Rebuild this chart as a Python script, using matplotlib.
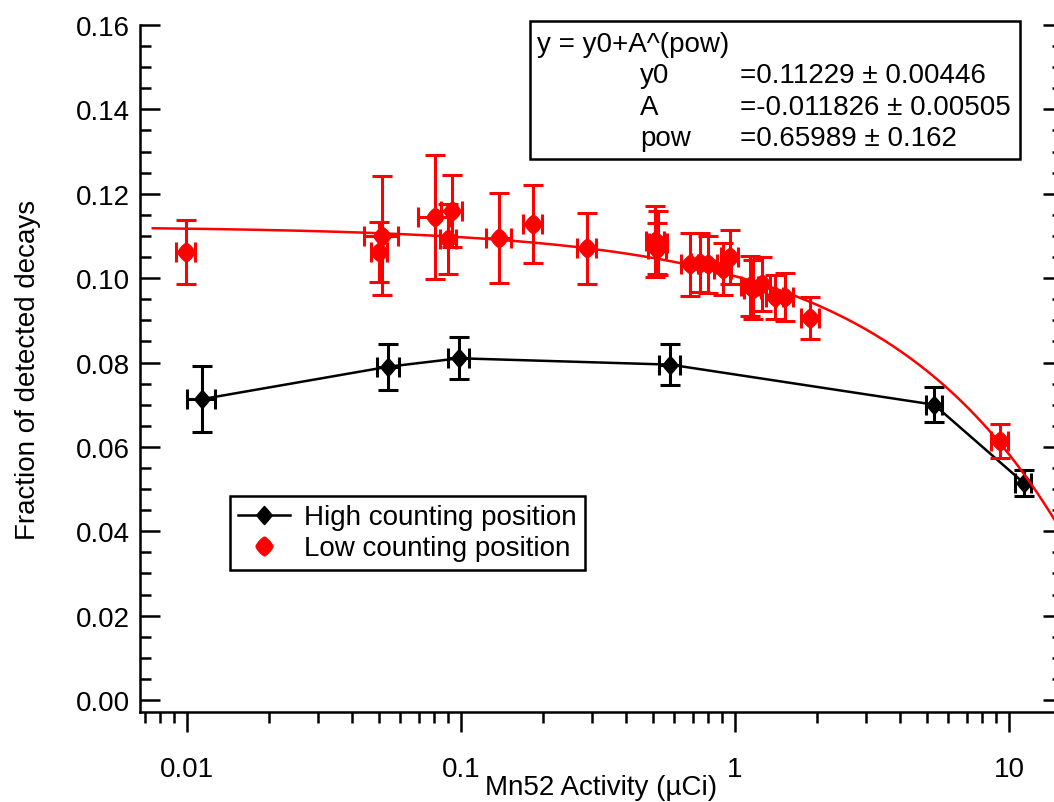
import numpy as np
import matplotlib
matplotlib.use("Agg")
import matplotlib.pyplot as plt
from matplotlib.lines import Line2D
from matplotlib.patches import Rectangle
from matplotlib.ticker import FixedLocator, FixedFormatter, LogLocator, MultipleLocator, NullFormatter

plt.rcParams['font.family'] = ['Liberation Sans', 'DejaVu Sans']

# ---- data ----
high_x = [0.0113, 0.0542, 0.0984, 0.579, 5.33, 11.3]
high_y = [0.0713, 0.0790, 0.0810, 0.0795, 0.0700, 0.0515]
high_yerr = [0.0078, 0.0055, 0.0050, 0.0048, 0.0042, 0.0031]
high_xerr = [0.0013, 0.0050, 0.009, 0.05, 0.37, 0.75]

low_x = [0.0099, 0.0503, 0.0515, 0.0804, 0.0897, 0.0927, 0.1377, 0.183, 0.288,
         0.512, 0.525, 0.520, 0.685, 0.745, 0.797, 0.904, 0.958, 1.134, 1.163,
         1.25, 1.40, 1.52, 1.88, 9.27]
low_y = [0.1062, 0.1062, 0.1100, 0.1145, 0.1093, 0.1159, 0.1095, 0.1128, 0.1071,
         0.1087, 0.1083, 0.1070, 0.1033, 0.1037, 0.1033, 0.1021, 0.1050, 0.0982,
         0.0974, 0.0986, 0.0955, 0.0955, 0.0905, 0.0614]
low_yerr = [0.0075, 0.0070, 0.0141, 0.0148, 0.0083, 0.0085, 0.0107, 0.0092, 0.0084,
            0.0084, 0.0076, 0.0060, 0.0075, 0.0070, 0.0068, 0.0062, 0.0063, 0.0071,
            0.0070, 0.0065, 0.0053, 0.0057, 0.0050, 0.0040]
low_xerr = [0.0008, 0.0035, 0.0074, 0.011, 0.006, 0.008, 0.014, 0.014, 0.022,
            0.04, 0.04, 0.04, 0.05, 0.055, 0.06, 0.065, 0.07, 0.08, 0.085,
            0.09, 0.10, 0.11, 0.14, 0.65]

fit_y0 = 0.11229
fit_A = -0.011826
fit_pow = 0.65989
fit_range = [0.0075, 16.0]

xtick_vals = [0.01, 0.1, 1, 10]
xtick_labels = ["0.01", "0.1", "1", "10"]
ytick_vals = [0.00, 0.02, 0.04, 0.06, 0.08, 0.10, 0.12, 0.14, 0.16]
ytick_labels = ["0.00", "0.02", "0.04", "0.06", "0.08", "0.10", "0.12", "0.14", "0.16"]

legend_labels = ["High counting position", "Low counting position"]
fit_lines = [("y = y0+A^(pow)", "", ""),
             ("", "y0", "=0.11229 \u00b1 0.00446"),
             ("", "A", "=-0.011826 \u00b1 0.00505"),
             ("", "pow", "=0.65989 \u00b1 0.162")]

# ---- figure ----
FS = 20
W, H = 1054, 803
fig = plt.figure(figsize=(W / 100, H / 100), dpi=100)
L, R, T, B = 140, 1063, 26, 713
ax = fig.add_axes([L / W, 1 - B / H, (R - L) / W, (B - T) / H])

# marker shapes
t = np.linspace(0, 2 * np.pi, 129)
def star(n, sx=1.0):
    c, s = np.cos(t), np.sin(t)
    x = np.sign(c) * np.abs(c) ** (2.0 / n) * sx
    y = np.sign(s) * np.abs(s) ** (2.0 / n)
    return np.column_stack([x, y])
red_marker = star(1.3, 0.9)
black_marker = star(1.05, 0.85)

lw = 1.8
RED = '#ff0000'

ax.errorbar(high_x, high_y, yerr=high_yerr, xerr=high_xerr, color='black',
            lw=lw, marker=black_marker, markersize=13, elinewidth=2.2,
            capsize=7, capthick=2.2, zorder=3)
ax.errorbar(low_x, low_y, yerr=low_yerr, xerr=low_xerr, color=RED, ls='none',
            marker=red_marker, markersize=13.5, elinewidth=2.2,
            capsize=7, capthick=2.2, zorder=4)
xf = np.logspace(np.log10(fit_range[0]), np.log10(fit_range[1]), 400)
ax.plot(xf, fit_y0 + fit_A * xf ** fit_pow, color=RED, lw=lw, zorder=5)

ax.set_xscale('log')
ax.set_xlim(10 ** ((L - 735) / 274.0), 10 ** ((R - 735) / 274.0))
ax.set_ylim(-(B - 701) / 4219.0, 0.16)

ax.xaxis.set_major_locator(FixedLocator(xtick_vals))
ax.xaxis.set_major_formatter(FixedFormatter(xtick_labels))
ax.xaxis.set_minor_locator(LogLocator(base=10, subs=np.arange(2, 10)))
ax.xaxis.set_minor_formatter(NullFormatter())
ax.yaxis.set_major_locator(FixedLocator(ytick_vals))
ax.yaxis.set_major_formatter(FixedFormatter(ytick_labels))
ax.yaxis.set_minor_locator(MultipleLocator(0.005))

ax.spines['top'].set_visible(False)
for s in ['left', 'bottom', 'right']:
    ax.spines[s].set_linewidth(1.8)

ax.tick_params(axis='x', which='both', direction='out', top=False, width=1.8,
               labelsize=FS, pad=17)
ax.tick_params(axis='x', which='major', length=14.5)
ax.tick_params(axis='x', which='minor', length=8)
ax.tick_params(axis='y', which='both', direction='in', left=True, right=True,
               width=1.8, labelsize=FS, pad=7)
ax.tick_params(axis='y', which='major', length=14.5)
ax.tick_params(axis='y', which='minor', length=8)

ax.set_xlabel("Mn52 Activity (\u00b5Ci)", fontsize=FS)
ax.set_ylabel("Fraction of detected decays", fontsize=FS)
ax.xaxis.set_label_coords(0.5, (B - 775) / (B - T))
ax.yaxis.set_label_coords((41 - L) / (R - L), 0.5)

handles = [Line2D([], [], color='black', lw=lw, marker=black_marker, markersize=13),
           Line2D([], [], color=RED, ls='none', marker=red_marker, markersize=13.5)]
leg = ax.legend(handles, legend_labels, loc='upper left',
                bbox_to_anchor=((230 - L) / (R - L), (B - 497) / (B - T)),
                fontsize=FS, frameon=True, fancybox=False, edgecolor='black',
                framealpha=1, handlelength=1.85, handletextpad=0.5,
                labelspacing=0.18, borderpad=0.3, borderaxespad=0)
leg.get_frame().set_linewidth(1.8)

# fit info box
fig.add_artist(Rectangle((530 / W, 1 - 160 / H), 490 / W, 138 / H,
                         transform=fig.transFigure, fill=False,
                         edgecolor='black', lw=1.8))
rows_y = [45, 76, 108, 139]
for (a, b, c), yy in zip(fit_lines, rows_y):
    if a:
        fig.text(537 / W, 1 - yy / H, a, fontsize=FS, va='center', ha='left')
    if b:
        fig.text(640 / W, 1 - yy / H, b, fontsize=FS, va='center', ha='left')
    if c:
        fig.text(740 / W, 1 - yy / H, c, fontsize=FS, va='center', ha='left')

fig.savefig("out.png", dpi=100)
